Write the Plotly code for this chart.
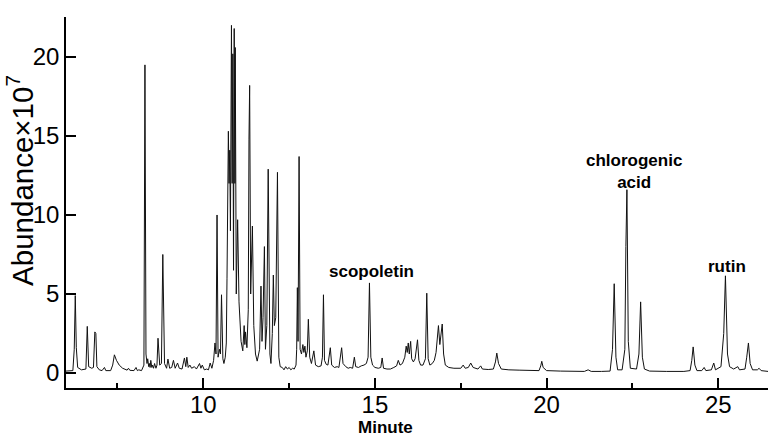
import plotly.graph_objects as go

# Retention time (min) and abundance (x10^7)
time_min = [
    6.00, 6.20, 6.24, 6.27, 6.30, 6.34, 6.45, 6.58, 6.62, 6.66, 6.75, 6.80, 6.84, 6.87, 6.90, 6.97,
    7.05, 7.12, 7.16, 7.30, 7.36, 7.41, 7.47, 7.55, 7.65, 7.78, 7.82, 7.86, 7.98, 8.04, 8.08, 8.12,
    8.20, 8.27, 8.30, 8.33, 8.36, 8.38, 8.41, 8.43, 8.45, 8.47, 8.50, 8.52, 8.55, 8.58, 8.62, 8.65,
    8.68, 8.73, 8.78, 8.82, 8.87, 8.93, 8.97, 9.02, 9.08, 9.13, 9.18, 9.25, 9.30, 9.38, 9.45, 9.49,
    9.52, 9.56, 9.61, 9.66, 9.74, 9.80, 9.89, 9.93, 9.97, 10.03, 10.10, 10.15,
    10.20, 10.25, 10.30, 10.34, 10.37, 10.40, 10.43, 10.47, 10.50, 10.53, 10.57, 10.60, 10.64, 10.67,
    10.69, 10.73, 10.75, 10.77, 10.79, 10.82, 10.84, 10.86, 10.88, 10.90, 10.92, 10.93, 10.96, 10.98,
    11.00, 11.04, 11.10, 11.15, 11.19, 11.21, 11.23, 11.27, 11.31, 11.33, 11.35, 11.38, 11.41, 11.43,
    11.47, 11.52, 11.57, 11.64, 11.68, 11.71, 11.74, 11.78, 11.81, 11.85, 11.89, 11.92, 11.94, 11.97,
    12.01, 12.04, 12.07, 12.11, 12.16, 12.20, 12.24, 12.30, 12.35, 12.40, 12.45, 12.50, 12.55, 12.60,
    12.65, 12.70, 12.72, 12.74, 12.76, 12.79, 12.82, 12.86, 12.90, 12.93, 12.96, 12.99, 13.03, 13.06,
    13.10, 13.15, 13.22, 13.27, 13.35, 13.43, 13.47, 13.50, 13.53, 13.58, 13.63, 13.70, 13.74, 13.82,
    13.90, 13.95, 14.03, 14.07, 14.15, 14.22, 14.28, 14.35, 14.40, 14.44, 14.52, 14.60, 14.68, 14.75,
    14.80, 14.84, 14.88, 14.93, 15.00, 15.10, 15.17, 15.21, 15.25, 15.35, 15.45, 15.55, 15.63, 15.68,
    15.73, 15.80, 15.87, 15.91, 15.94, 15.97, 16.00, 16.04, 16.07, 16.12, 16.17, 16.24, 16.28, 16.33,
    16.40, 16.47, 16.51, 16.55, 16.60, 16.67, 16.73, 16.78, 16.85, 16.89, 16.96, 17.00, 17.05, 17.15,
    17.30, 17.50, 17.57, 17.63, 17.72, 17.79, 17.86, 18.00, 18.08, 18.13, 18.30, 18.45, 18.51, 18.55,
    18.60, 18.68, 18.90, 19.20, 19.50, 19.78, 19.83, 19.86, 19.90, 20.00, 20.40, 20.80, 21.10, 21.21,
    21.30, 21.60, 21.85, 21.92, 21.97, 22.02, 22.07, 22.20, 22.28, 22.31, 22.34, 22.38, 22.44, 22.62,
    22.69, 22.74, 22.79, 22.85, 23.00, 23.50, 24.00, 24.18, 24.23, 24.27, 24.32, 24.38, 24.52, 24.59,
    24.64, 24.80, 24.87, 24.92, 25.08, 25.16, 25.21, 25.27, 25.33, 25.45, 25.57, 25.62, 25.78, 25.83,
    25.88, 25.93, 26.00, 26.14, 26.19, 26.25, 26.45,
]
abundance = [
    0.12, 0.15, 1.5, 4.9, 1.6, 0.35, 0.2, 0.25, 2.95, 0.4, 0.3, 0.35, 2.6, 2.5, 0.4, 0.2,
    0.15, 0.35, 0.15, 0.15, 0.5, 1.15, 0.8, 0.5, 0.3, 0.18, 0.3, 0.17, 0.15, 0.35, 0.15, 0.2,
    0.15, 0.5, 19.5, 1.2, 0.6, 0.9, 0.4, 0.6, 0.35, 0.8, 0.35, 0.5, 0.3, 0.6, 0.3, 0.5,
    2.2, 0.5, 0.6, 7.5, 0.6, 0.3, 0.88, 0.3, 0.35, 0.8, 0.3, 0.63, 0.3, 0.25, 0.95, 0.4,
    1.0, 0.35, 0.5, 0.3, 0.4, 0.25, 0.6, 0.3, 0.5, 0.2, 0.25, 0.2,
    0.63, 0.3, 0.8, 1.9, 1.2, 10.0, 1.0, 1.5, 1.2, 4.95, 0.9, 0.6, 1.0, 1.9,
    6.0, 15.3, 12.0, 14.1, 9.0, 22.0, 12.0, 20.2, 6.5, 21.8, 12.0, 20.6, 5.0, 6.8,
    9.7, 4.5, 2.0, 1.4, 3.0, 1.8, 2.6, 1.6, 4.0, 14.8, 18.2, 5.0, 7.0, 9.3,
    3.0, 1.2, 0.75, 1.5, 5.5, 2.0, 3.5, 8.0, 1.5, 3.0, 12.9, 4.0, 1.2, 0.6,
    2.5, 6.2, 3.0, 3.5, 12.7, 1.0, 0.4, 0.35, 0.2, 0.4, 0.25, 0.35, 0.2, 0.3,
    0.25, 0.5, 1.5, 5.4, 2.0, 13.7, 1.5, 1.2, 1.8, 1.3, 1.7, 1.0, 1.4, 3.4,
    1.0, 0.6, 1.4, 0.5, 0.4, 0.45, 1.0, 4.95, 0.8, 0.55, 0.5, 1.6, 0.5, 0.35,
    0.4, 0.35, 1.6, 0.6, 0.4, 0.3, 0.35, 0.3, 1.0, 0.4, 0.35, 0.45, 0.5, 0.6,
    1.0, 5.7, 1.0, 0.5, 0.35, 0.3, 0.35, 0.95, 0.3, 0.25, 0.25, 0.35, 0.45, 0.8,
    0.5, 0.6, 1.0, 1.7, 1.3, 1.9, 1.2, 2.0, 0.9, 0.7, 0.9, 2.1, 0.8, 0.5,
    0.5, 0.9, 5.05, 0.9, 0.5, 0.6, 0.8, 1.3, 3.0, 1.8, 3.1, 1.2, 0.5, 0.35,
    0.3, 0.3, 0.5, 0.3, 0.35, 0.63, 0.35, 0.25, 0.45, 0.25, 0.22, 0.25, 0.7, 1.26,
    0.6, 0.25, 0.2, 0.18, 0.15, 0.15, 0.45, 0.74, 0.35, 0.15, 0.12, 0.1, 0.1, 0.2,
    0.1, 0.1, 0.12, 1.5, 5.65, 1.0, 0.2, 0.2, 1.5, 8.0, 11.6, 2.0, 0.3, 0.25,
    1.2, 4.5, 1.0, 0.25, 0.12, 0.1, 0.1, 0.15, 0.8, 1.65, 0.5, 0.15, 0.15, 0.35,
    0.15, 0.2, 0.63, 0.2, 0.4, 2.5, 6.15, 1.2, 0.4, 0.25, 0.4, 0.2, 0.25, 1.0,
    1.9, 0.6, 0.2, 0.2, 0.3, 0.15, 0.1,
]

# Compound labels: name, retention time of labelled peak, label height
compound_names = ["scopoletin", "chlorogenic<br>acid", "rutin"]
compound_times = [14.90, 22.55, 25.25]
compound_label_y = [6.4, 12.78, 6.72]

x_tick_vals = [10, 15, 20, 25]
y_tick_vals = [0, 5, 10, 15, 20]

FONT = "Arial, Liberation Sans, Helvetica, sans-serif"

fig = go.Figure()
fig.add_trace(go.Scatter(
    x=time_min, y=abundance, mode="lines",
    line=dict(color="#111111", width=1),
    hoverinfo="x+y", showlegend=False,
))

for name, t, yv in zip(compound_names, compound_times, compound_label_y):
    fig.add_annotation(x=t, y=yv, xref="x", yref="y", text="<b>" + name + "</b>",
                       showarrow=False, font=dict(family=FONT, size=17, color="black"),
                       xanchor="center", yanchor="middle")

fig.add_annotation(x=15.3, y=-0.107, xref="x", yref="paper", text="<b>Minute</b>",
                   showarrow=False, font=dict(family=FONT, size=17, color="black"),
                   xanchor="center", yanchor="middle")
fig.add_annotation(x=-0.066, y=0.56, xref="paper", yref="paper",
                   text="Abundance×10<sup>7</sup>", textangle=-90,
                   showarrow=False, font=dict(family=FONT, size=29.5, color="black"),
                   xanchor="center", yanchor="middle")

fig.update_layout(
    template="none",
    width=770, height=436,
    margin=dict(l=66, r=2, t=17, b=48, autoexpand=False),
    paper_bgcolor="white", plot_bgcolor="white",
    font=dict(family=FONT, color="black"),
    showlegend=False,
    xaxis=dict(range=[6.0, 26.45], tickvals=x_tick_vals, ticks="inside", ticklen=10,
               tickwidth=1.5, tickcolor="black", showline=True, linecolor="black",
               linewidth=1.5, showgrid=False, zeroline=False, automargin=False,
               tickfont=dict(family=FONT, size=24, color="black"),
               ticklabelstandoff=-6,
               minor=dict(ticks="inside", ticklen=5, tickwidth=1.5, tickcolor="black",
                          dtick=2.5, tick0=0, showgrid=False)),
    yaxis=dict(range=[-0.95, 22.53], tickvals=y_tick_vals, ticks="inside", ticklen=10,
               tickwidth=1.5, tickcolor="black", showline=True, linecolor="black",
               linewidth=1.5, showgrid=False, zeroline=False, automargin=False,
               tickfont=dict(family=FONT, size=24, color="black"),
               ticklabelstandoff=0),
)

fig.write_html("out.html", config={"displayModeBar": False},
               post_script="document.body.style.margin='0';document.body.style.padding='0';")
